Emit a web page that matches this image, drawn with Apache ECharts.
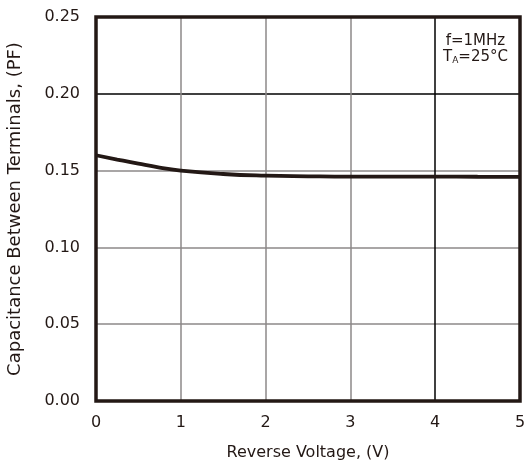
<!DOCTYPE html>
<html>
<head>
<meta charset="utf-8">
<script src="https://cdn.jsdelivr.net/npm/echarts@6/dist/echarts.min.js"></script>
<style>
html, body { margin: 0; padding: 0; background: #fff; }
#chart { width: 526px; height: 462px; }
</style>
</head>
<body>
<div id="chart"></div>
<script>
// reverse voltage (V) and capacitance (pF)
var voltage = [0, 0.25, 0.5, 0.75, 1, 1.5, 2, 2.5, 3, 3.5, 4, 4.5, 5];
var capacitance = [0.160, 0.1572, 0.1545, 0.1520, 0.1500, 0.1478, 0.1467, 0.1463, 0.1461, 0.1461, 0.1461, 0.1460, 0.1459];
var xTicks = [0, 1, 2, 3, 4, 5];
var yTicks = ['0.00', '0.05', '0.10', '0.15', '0.20', '0.25'];

var dark = '#231815';
var gray = '#8c8888';
var font = 'DejaVu Sans, sans-serif';

var points = voltage.map(function (v, i) { return [v, capacitance[i]]; });

var myChart = echarts.init(document.getElementById('chart'));
var option = {
    animation: false,
    grid: {
        left: 96, right: 6, top: 17, bottom: 61,
        outerBoundsMode: 'none', containLabel: false,
        show: true, borderColor: dark, borderWidth: 3.5, z: 10
    },
    xAxis: {
        type: 'value', min: 0, max: 5, interval: 1,
        name: 'Reverse Voltage, (V)', nameLocation: 'middle', nameGap: 44,
        nameTextStyle: { fontFamily: font, fontSize: 16, color: dark },
        axisLine: { show: false },
        axisTick: { show: false },
        axisLabel: {
            margin: 14, fontFamily: font, fontSize: 16, color: dark,
            formatter: function (v) { return xTicks.indexOf(v) >= 0 ? String(v) : ''; }
        },
        splitLine: { show: true, lineStyle: { color: [gray, gray, gray, gray, '#000', gray], width: 1.5 } }
    },
    yAxis: {
        type: 'value', min: 0, max: 0.25, interval: 0.05,
        name: 'Capacitance Between Terminals, (PF)', nameLocation: 'middle', nameGap: 72,
        nameTextStyle: { fontFamily: font, fontSize: 18, color: dark },
        axisLine: { show: false },
        axisTick: { show: false },
        axisLabel: {
            margin: 16, fontFamily: font, fontSize: 16, color: dark,
            formatter: function (v) { return yTicks[Math.round(v / 0.05)]; }
        },
        splitLine: { show: true, lineStyle: { color: [gray, gray, gray, gray, '#000', gray], width: 1.5 } }
    },
    graphic: [{
        type: 'text', left: 443, top: 34, z: 20,
        style: {
            text: '{n|f=1MHz}\n{n|T}{s|A}{n|=25°C}',
            align: 'center', fill: dark,
            rich: {
                n: { fontFamily: font, fontSize: 15, fill: dark, lineHeight: 16, align: 'center' },
                s: { fontFamily: font, fontSize: 9, fill: dark, lineHeight: 16, verticalAlign: 'bottom', align: 'center' }
            }
        }
    }],
    series: [{
        type: 'line', data: points, smooth: true, showSymbol: false,
        lineStyle: { color: dark, width: 3.8 }, z: 5
    }]
};
myChart.setOption(option);
</script>
</body>
</html>
